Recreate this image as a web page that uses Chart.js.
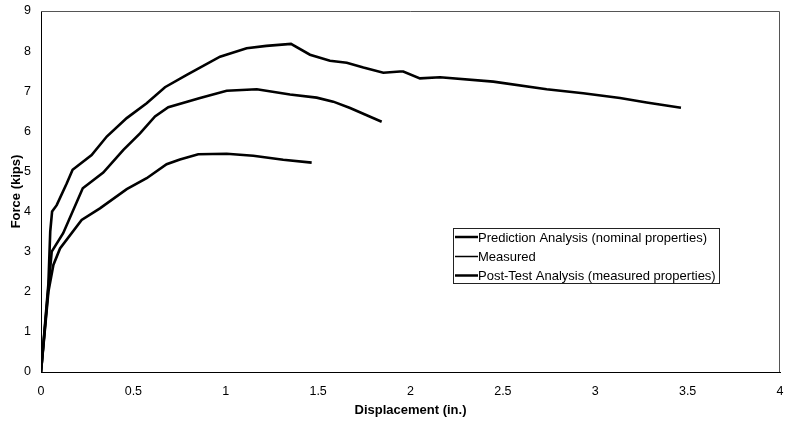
<!DOCTYPE html>
<html>
<head>
<meta charset="utf-8">
<script src="https://cdn.jsdelivr.net/npm/chart.js@4.4.0/dist/chart.umd.min.js"></script>
<style>
  html, body { margin: 0; padding: 0; background: #fff; }
  #wrap { width: 785px; height: 422px; }
</style>
</head>
<body>
<div id="wrap"><canvas id="myChart" width="785" height="422"></canvas></div>
<script>
// displacement (in.) / force (kips) pairs for each curve
var measuredX = [0, 0.04, 0.05, 0.06, 0.085, 0.139, 0.171, 0.274, 0.356, 0.464, 0.572, 0.671, 0.789, 0.969, 1.113, 1.22, 1.353, 1.456, 1.564, 1.655, 1.745, 1.853, 1.943, 1.961, 2.051, 2.16, 2.448, 2.737, 2.935, 3.134, 3.278, 3.464];
var measuredY = [0, 2.2, 3.5, 4.0, 4.16, 4.7, 5.04, 5.41, 5.87, 6.33, 6.70, 7.10, 7.41, 7.86, 8.07, 8.13, 8.18, 7.91, 7.76, 7.71, 7.59, 7.46, 7.49, 7.49, 7.32, 7.35, 7.24, 7.05, 6.95, 6.83, 6.72, 6.59];

var postTestX = [0, 0.04, 0.058, 0.12, 0.226, 0.337, 0.446, 0.536, 0.617, 0.689, 0.861, 1.005, 1.168, 1.348, 1.492, 1.582, 1.673, 1.844];
var postTestY = [0, 2.1, 3.0, 3.46, 4.58, 4.97, 5.54, 5.95, 6.37, 6.60, 6.83, 7.01, 7.05, 6.92, 6.84, 6.74, 6.58, 6.24];

var predictionX = [0, 0.04, 0.067, 0.103, 0.22, 0.319, 0.464, 0.572, 0.68, 0.752, 0.851, 1.005, 1.149, 1.311, 1.465];
var predictionY = [0, 2.0, 2.67, 3.08, 3.79, 4.08, 4.56, 4.83, 5.18, 5.30, 5.43, 5.44, 5.39, 5.29, 5.22];

var xTicks = [0, 0.5, 1, 1.5, 2, 2.5, 3, 3.5, 4];
var yTicks = [0, 1, 2, 3, 4, 5, 6, 7, 8, 9];

function toPoints(xs, ys) {
  return xs.map(function (x, i) { return { x: x, y: ys[i] }; });
}

var FONT = "'Liberation Sans', Arial, sans-serif";

// plot frame plus the boxed key sitting inside the plot
var frameAndKey = {
  id: 'frameAndKey',
  afterDraw: function (chart) {
    var ctx = chart.ctx, a = chart.chartArea;
    ctx.save();
    ctx.strokeStyle = '#555';
    ctx.lineWidth = 1;
    ctx.beginPath();
    ctx.moveTo(a.left, a.top + 0.5);
    ctx.lineTo(a.right - 0.5, a.top + 0.5);
    ctx.lineTo(a.right - 0.5, a.bottom);
    ctx.stroke();

    var bx = 453, by = 228, bw = 266, bh = 55;
    ctx.fillStyle = '#fff';
    ctx.fillRect(bx, by, bw, bh);
    ctx.strokeStyle = '#222';
    ctx.strokeRect(bx + 0.5, by + 0.5, bw, bh);

    ctx.font = '13px ' + FONT;
    ctx.textBaseline = 'middle';
    ctx.fillStyle = '#000';
    var rowY = [237, 256.5, 275.5];
    chart.data.datasets.forEach(function (ds) {
      var y = rowY[ds.keyRow];
      ctx.strokeStyle = '#000';
      ctx.lineWidth = ds.keyWidth;
      ctx.beginPath();
      ctx.moveTo(bx + 2, y);
      ctx.lineTo(bx + 25, y);
      ctx.stroke();
      ctx.fillText(ds.label, bx + 25, y + 1);
    });
    ctx.restore();
  }
};

var config = {
  type: 'scatter',
  data: {
    datasets: [
      {
        label: 'Prediction Analysis (nominal properties)',
        data: toPoints(predictionX, predictionY),
        keyRow: 0, keyWidth: 2.5
      },
      {
        label: 'Measured',
        data: toPoints(measuredX, measuredY),
        keyRow: 1, keyWidth: 1.5
      },
      {
        label: 'Post-Test Analysis (measured properties)',
        data: toPoints(postTestX, postTestY),
        keyRow: 2, keyWidth: 2.5
      }
    ]
  },
  options: {
    responsive: false,
    animation: false,
    showLine: true,
    layout: { padding: { top: 11, right: 5, left: 0, bottom: 0 } },
    elements: {
      line: { borderColor: '#000', borderWidth: 2.6, tension: 0, fill: false },
      point: { radius: 0, hoverRadius: 0 }
    },
    plugins: {
      legend: { display: false },
      tooltip: { enabled: false },
      title: { display: false }
    },
    scales: {
      x: {
        type: 'linear',
        min: 0, max: 4,
        afterBuildTicks: function (s) { s.ticks = xTicks.map(function (v) { return { value: v }; }); },
        afterFit: function (s) { s.height = 50; s.paddingLeft = 0; s.paddingRight = 0; },
        grid: { display: false, drawOnChartArea: false, drawTicks: true, tickLength: 4, color: '#000' },
        border: { display: true, color: '#000', width: 1 },
        ticks: {
          color: '#000', font: { family: FONT, size: 12.5 }, padding: 8, maxRotation: 0,
          callback: function (v) { return String(v); }
        },
        title: {
          display: true, text: 'Displacement (in.)', color: '#000',
          font: { family: FONT, size: 13, weight: 'bold' }, padding: { top: 0, bottom: 4 }
        }
      },
      y: {
        type: 'linear',
        min: 0, max: 9,
        afterBuildTicks: function (s) { s.ticks = yTicks.map(function (v) { return { value: v }; }); },
        afterFit: function (s) { s.width = 41; s.paddingTop = 0; s.paddingBottom = 0; },
        grid: { display: false, drawOnChartArea: false, drawTicks: true, tickLength: 4, color: '#000' },
        border: { display: true, color: '#000', width: 1 },
        ticks: {
          color: '#000', font: { family: FONT, size: 12.5 }, padding: 6,
          callback: function (v) { return String(v); }
        },
        title: {
          display: true, text: 'Force (kips)', color: '#000',
          font: { family: FONT, size: 13, weight: 'bold' }, padding: { top: 9, bottom: 0 }
        }
      }
    }
  },
  plugins: [frameAndKey]
};

var chartCanvas = document.getElementById('myChart');
var chartInstance = new Chart(chartCanvas, config);
</script>
</body>
</html>
